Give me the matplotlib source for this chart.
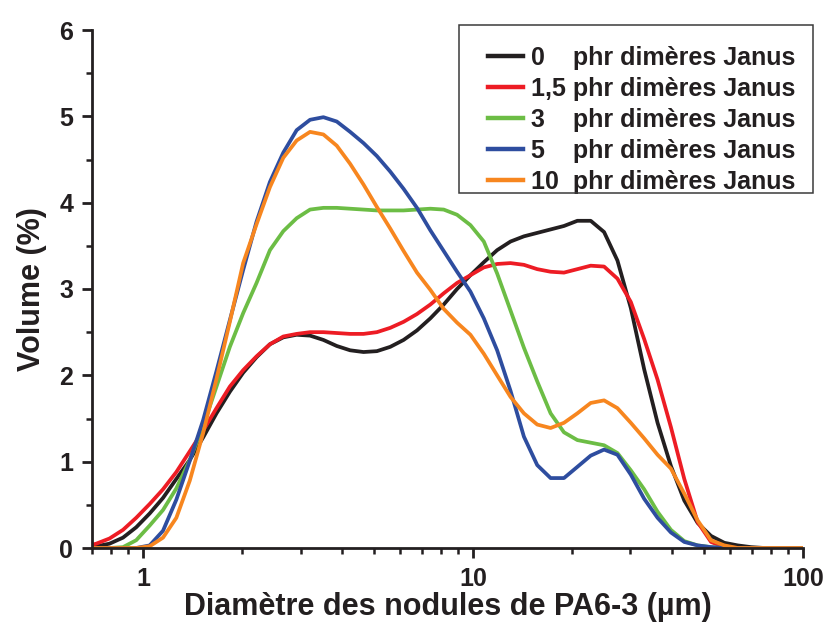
import matplotlib
matplotlib.use("Agg")
import matplotlib.pyplot as plt
from matplotlib.patches import Rectangle
from matplotlib.ticker import LogLocator, NullFormatter, FixedLocator, MultipleLocator

plt.rcParams['font.family'] = ['Liberation Sans', 'DejaVu Sans']
plt.rcParams['font.weight'] = 'bold'

# particle size channels (µm)
diam = [0.657, 0.721, 0.791, 0.869, 0.953, 1.047, 1.149, 1.261, 1.385, 1.520,
        1.669, 1.832, 2.010, 2.207, 2.423, 2.660, 2.920, 3.206, 3.519, 3.863,
        4.241, 4.656, 5.111, 5.611, 6.159, 6.761, 7.422, 8.148, 8.944, 9.819,
        10.78, 11.83, 12.99, 14.26, 15.65, 17.18, 18.86, 20.71, 22.73, 24.95,
        27.39, 30.07, 33.01, 36.24, 39.78, 43.67, 47.94, 52.63, 57.77, 63.42,
        69.62, 76.43, 83.90, 92.10, 101.1]

vol_0 = [0.00, 0.02, 0.05, 0.12, 0.24, 0.40, 0.58, 0.80, 1.02, 1.28,
         1.56, 1.81, 2.03, 2.21, 2.36, 2.44, 2.47, 2.46, 2.41, 2.34,
         2.29, 2.27, 2.28, 2.33, 2.41, 2.52, 2.66, 2.82, 3.00, 3.16,
         3.31, 3.45, 3.55, 3.61, 3.65, 3.69, 3.73, 3.79, 3.79, 3.66,
         3.33, 2.78, 2.07, 1.45, 0.95, 0.55, 0.29, 0.14, 0.06, 0.03,
         0.01, 0.00, 0.00, 0.00, 0.00]

vol_1_5 = [0.01, 0.05, 0.11, 0.21, 0.35, 0.51, 0.68, 0.88, 1.12, 1.36,
           1.62, 1.87, 2.06, 2.22, 2.36, 2.45, 2.48, 2.50, 2.50, 2.49,
           2.48, 2.48, 2.50, 2.55, 2.62, 2.71, 2.82, 2.95, 3.07, 3.16,
           3.25, 3.29, 3.30, 3.28, 3.23, 3.20, 3.19, 3.23, 3.27, 3.26,
           3.12, 2.85, 2.42, 1.95, 1.40, 0.80, 0.30, 0.07, 0.01, 0.00,
           0.00, 0.00, 0.00, 0.00, 0.00]

vol_3 = [0.00, 0.00, 0.00, 0.01, 0.09, 0.26, 0.44, 0.69, 1.02, 1.41,
         1.87, 2.33, 2.72, 3.07, 3.45, 3.67, 3.82, 3.92, 3.94, 3.94,
         3.93, 3.92, 3.91, 3.91, 3.91, 3.92, 3.93, 3.92, 3.86, 3.74,
         3.55, 3.18, 2.75, 2.32, 1.93, 1.56, 1.34, 1.25, 1.22, 1.19,
         1.10, 0.90, 0.68, 0.42, 0.21, 0.08, 0.03, 0.01, 0.00, 0.00,
         0.00, 0.00, 0.00, 0.00, 0.00]

vol_5 = [0.00, 0.00, 0.00, 0.00, 0.00, 0.03, 0.20, 0.56, 1.01, 1.48,
         2.05, 2.64, 3.22, 3.78, 4.24, 4.58, 4.84, 4.96, 4.99, 4.94,
         4.82, 4.69, 4.54, 4.36, 4.16, 3.94, 3.68, 3.44, 3.20, 2.97,
         2.66, 2.29, 1.82, 1.29, 0.96, 0.81, 0.81, 0.94, 1.07, 1.14,
         1.08, 0.85, 0.57, 0.35, 0.18, 0.07, 0.03, 0.01, 0.00, 0.00,
         0.00, 0.00, 0.00, 0.00, 0.00]

vol_10 = [0.00, 0.00, 0.00, 0.00, 0.00, 0.02, 0.12, 0.35, 0.78, 1.33,
          1.96, 2.62, 3.30, 3.75, 4.18, 4.52, 4.72, 4.82, 4.79, 4.66,
          4.45, 4.21, 3.95, 3.70, 3.44, 3.19, 2.99, 2.77, 2.61, 2.47,
          2.25, 2.00, 1.75, 1.56, 1.43, 1.39, 1.45, 1.56, 1.68, 1.71,
          1.62, 1.45, 1.27, 1.08, 0.92, 0.63, 0.32, 0.09, 0.03, 0.00,
          0.00, 0.00, 0.00, 0.00, 0.00]

labels = ["0    phr dimères Janus", "1,5 phr dimères Janus", "3    phr dimères Janus",
          "5    phr dimères Janus", "10  phr dimères Janus"]
colors = ["#231f20", "#ed1c24", "#6cbd45", "#2e4d9f", "#f7861f"]
series = [vol_0, vol_1_5, vol_3, vol_5, vol_10]

W, H = 829, 626
fig = plt.figure(figsize=(W / 100, H / 100), dpi=100)
ax = fig.add_axes([92 / W, 1 - 548 / H, (803 - 92) / W, (548 - 30) / H])

for vals, col, lab in zip(series, colors, labels):
    ax.plot(diam, vals, color=col, linewidth=2.7, label=lab)

ax.set_xscale('log')
ax.set_xlim(0.7, 100)
ax.set_ylim(0, 6)

ax.xaxis.set_major_locator(FixedLocator([1, 10, 100]))
ax.set_xticklabels(["1", "10", "100"])
ax.xaxis.set_minor_locator(LogLocator(base=10, subs=range(2, 10)))
ax.xaxis.set_minor_formatter(NullFormatter())
ax.yaxis.set_major_locator(MultipleLocator(1))
ax.yaxis.set_minor_locator(MultipleLocator(0.5))

for s in ['top', 'right']:
    ax.spines[s].set_visible(False)
for s in ['left', 'bottom']:
    ax.spines[s].set_linewidth(2.0)
    ax.spines[s].set_color('#231f20')

ax.tick_params(which='major', direction='out', length=7.5, width=2.0, labelsize=18,
               colors='#231f20')
ax.tick_params(which='minor', direction='out', length=4, width=1.8, colors='#231f20')
ax.tick_params(axis='x', which='major', pad=6)
ax.tick_params(axis='y', which='major', pad=6)

ax.set_xlabel("Diamètre des nodules de PA6-3 (µm)", fontsize=22, fontweight='bold',
              color='#231f20', labelpad=1)
ax.set_ylabel("Volume (%)", fontsize=22, fontweight='bold', color='#231f20', labelpad=9)

# legend without its own frame, boxed by a separate rectangle
leg = ax.legend(loc='upper left', bbox_to_anchor=(488 / W, 1 - 46 / H),
                bbox_transform=fig.transFigure, borderaxespad=0, borderpad=0,
                frameon=False, fontsize=18, handlelength=1.4, handletextpad=0.33,
                labelspacing=0.28)
for t in leg.get_texts():
    t.set_color('#231f20')
for h in leg.legend_handles:
    h.set_linewidth(3.2)

fig.add_artist(Rectangle((459 / W, 1 - 193 / H), (813 - 459) / W, (193 - 25) / H,
                         transform=fig.transFigure, fill=False, edgecolor='#3a3a3a',
                         linewidth=1.1))

fig.savefig("out.png", dpi=100)
